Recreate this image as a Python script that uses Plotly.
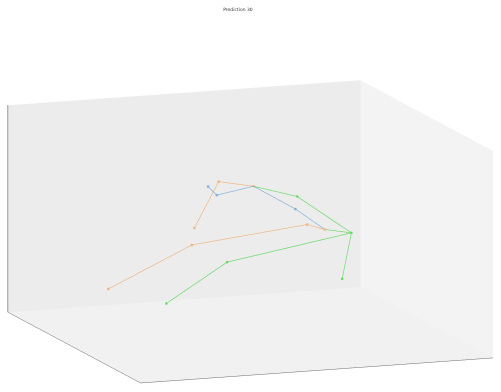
import plotly.graph_objects as go

# Joint positions of the predicted pose (x: left-right, y: depth, z: height)
joint_x = [0.61, 0.34, 0.13, 0.46, -0.17, -0.59, 0.52, 0.33, -0.06, -0.09, 0.34, -0.37, -0.92, -0.03, -0.13]
joint_y = [0.10, 0.20, 0.30, 0.10, -0.10, -0.30, 0.00, 0.20, 0.35, 0.40, 0.05, -0.10, -0.30, 0.40, 0.50]
joint_z = [-0.12, 0.23, 0.32, -0.07, -0.24, -0.52, -0.52, 0.11, 0.24, 0.31, 0.01, -0.05, -0.34, 0.35, -0.12]

# Bone chains, grouped by colour
green_bones = [[0, 1, 2], [0, 3], [0, 4, 5], [0, 6]]
blue_bones = [[3, 7, 2, 8, 9]]
orange_bones = [[3, 10, 11, 12], [2, 13, 14]]

chain_colors = {"green": "#63d963", "blue": "#84aedb", "orange": "#f0b47e"}
chain_groups = {"green": green_bones, "blue": blue_bones, "orange": orange_bones}

title_text = "Prediction 30"


def chain_coords(chains):
    xs, ys, zs = [], [], []
    for chain in chains:
        for j in chain:
            xs.append(joint_x[j])
            ys.append(joint_y[j])
            zs.append(joint_z[j])
        xs.append(None)
        ys.append(None)
        zs.append(None)
    return xs, ys, zs


fig = go.Figure()
for name, chains in chain_groups.items():
    xs, ys, zs = chain_coords(chains)
    fig.add_trace(go.Scatter3d(
        x=xs, y=ys, z=zs,
        mode="lines+markers",
        line=dict(color=chain_colors[name], width=1.3),
        marker=dict(color=chain_colors[name], size=1.5),
        hoverinfo="skip",
        showlegend=False,
    ))


def axis_style(bg, edge):
    return dict(
        range=[-1, 1],
        showgrid=False,
        zeroline=False,
        showticklabels=False,
        ticks="",
        title=dict(text=""),
        showbackground=True,
        backgroundcolor=bg,
        showline=True,
        linecolor=edge,
        linewidth=1,
        showspikes=False,
    )


fig.update_layout(
    width=501,
    height=392,
    margin=dict(l=0, r=0, t=0, b=0),
    paper_bgcolor="white",
    title=dict(text=title_text, x=0.475, xanchor="center", y=0.98, yanchor="top",
               yref="container", font=dict(family="DejaVu Sans", size=4.5, color="#333333")),
    scene=dict(
        xaxis=axis_style("#f3f3f3", "#6a6a6a"),
        yaxis=axis_style("#ececec", "#6a6a6a"),
        zaxis=axis_style("#f1f1f1", "#333333"),
        aspectmode="manual",
        aspectratio=dict(x=1.915, y=1.974, z=1.076),
        camera=dict(
            eye=dict(x=-0.9973, y=-2.7312, z=0.7632),
            center=dict(x=0.0122, y=0.0333, z=0.1782),
            up=dict(x=0, y=0, z=1),
            projection=dict(type="orthographic"),
        ),
        dragmode=False,
    ),
)

fig.write_html("out.html", config={"displayModeBar": False})
